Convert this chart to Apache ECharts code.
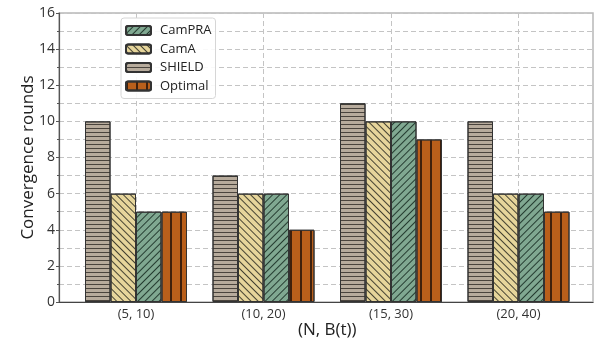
<!DOCTYPE html>
<html>
<head>
<meta charset="utf-8">
<script src="https://cdn.jsdelivr.net/npm/echarts@6/dist/echarts.min.js"></script>
<style>
html,body{margin:0;padding:0;background:#fff;}
#chart{width:598px;height:341px;}
</style>
</head>
<body>
<div id="chart"></div>
<script>
const categories = ['(5, 10)', '(10, 20)', '(15, 30)', '(20, 40)'];
const shield = [10, 7, 11, 10];
const camA = [6, 6, 10, 6];
const camPRA = [5, 6, 10, 6];
const optimal = [5, 4, 9, 5];
const yTicks = [0, 2, 4, 6, 8, 10, 12, 14, 16];
const legendOrder = ['CamPRA', 'CamA', 'SHIELD', 'Optimal'];

const FONT = 'Open Sans';
const gridLine = {color: '#c4c4c4', width: 1, type: [5, 3]};

function barSeries(name, data, color, decal) {
  return {
    name: name, type: 'bar', data: data,
    xAxisIndex: 1, yAxisIndex: 1,
    barWidth: 25.5, barGap: '0%', clip: false,
    itemStyle: {color: color, borderColor: '#333', borderWidth: 1, decal: decal},
    emphasis: {disabled: true}
  };
}

const chart = echarts.init(document.getElementById('chart'), null, {renderer: 'canvas'});
chart.setOption({
  animation: false,
  textStyle: {fontFamily: FONT},
  grid: [
    {left: 59, right: 5, top: 13, bottom: 39, show: true, borderColor: '#b8b8b8', borderWidth: 1.5, backgroundColor: 'transparent', outerBoundsMode: 'none', containLabel: false},
    {left: 136, right: 79.5, top: 13, bottom: 39, outerBoundsMode: 'none', containLabel: false}
  ],
  legend: {
    data: legendOrder, orient: 'vertical', left: 121, top: 18,
    itemWidth: 25, itemHeight: 9, itemGap: 5.5,
    backgroundColor: 'rgba(255,255,255,0.9)',
    borderColor: '#d6d6d6', borderWidth: 1, borderRadius: 3, padding: [6, 4, 6, 4],
    textStyle: {fontFamily: FONT, fontSize: 13, color: '#222', padding: [0, 0, 0, 4]}
  },
  xAxis: [
    {gridIndex: 0, type: 'value', min: 0, max: 1, position: 'top',
     axisLine: {show: true, lineStyle: {color: '#444', width: 1.2}},
     axisTick: {show: false}, axisLabel: {show: false}, splitLine: {show: false}},
    {gridIndex: 1, type: 'category', data: categories, boundaryGap: false,
     axisLine: {show: false}, axisTick: {show: false},
     axisLabel: {fontFamily: FONT, fontSize: 13, color: '#333', margin: 6},
     splitLine: {show: true, lineStyle: gridLine},
     name: '(N, B(t))', nameLocation: 'middle', nameGap: 20, nameMoveOverlap: false,
     nameTextStyle: {fontFamily: FONT, fontSize: 17, color: '#222', verticalAlign: 'top'}}
  ],
  yAxis: [
    {gridIndex: 0, type: 'value', min: 0, max: 16, interval: 2,
     axisLine: {show: true, lineStyle: {color: '#555', width: 1.2}},
     axisTick: {show: true, length: 3, lineStyle: {color: '#555'}},
     minorTick: {show: true, splitNumber: 2, length: 2, lineStyle: {color: '#555'}},
     axisLabel: {fontFamily: FONT, fontSize: 14, color: '#333', margin: 4,
       formatter: function (v) { return yTicks.indexOf(v) >= 0 ? String(v) : ''; }},
     splitLine: {show: true, lineStyle: gridLine},
     minorSplitLine: {show: true, lineStyle: gridLine},
     name: 'Convergence rounds', nameLocation: 'middle', nameGap: 22, nameMoveOverlap: false,
     nameTextStyle: {fontFamily: FONT, fontSize: 17, color: '#222'}},
    {gridIndex: 1, type: 'value', min: 0, max: 16, show: false}
  ],
  series: [
    barSeries('SHIELD', shield, '#b7ab9c',
      {symbol: 'rect', symbolSize: 1, dashArrayX: [1, 0], dashArrayY: [1, 3], rotation: 0, color: 'rgba(55,50,45,0.85)'}),
    barSeries('CamA', camA, '#e6d59b',
      {symbol: 'rect', symbolSize: 1, dashArrayX: [1, 0], dashArrayY: [1, 4], rotation: Math.PI / 4, color: 'rgba(40,40,30,0.85)'}),
    barSeries('CamPRA', camPRA, '#80a891',
      {symbol: 'rect', symbolSize: 1, dashArrayX: [1, 0], dashArrayY: [1, 4], rotation: -Math.PI / 4, color: 'rgba(20,40,30,0.85)'}),
    barSeries('Optimal', optimal, '#b95f1b',
      {symbol: 'rect', symbolSize: 1, dashArrayX: [1.2, 7.3], dashArrayY: [1, 0], rotation: 0, color: 'rgba(50,25,10,0.9)'})
  ]
});
</script>
</body>
</html>
